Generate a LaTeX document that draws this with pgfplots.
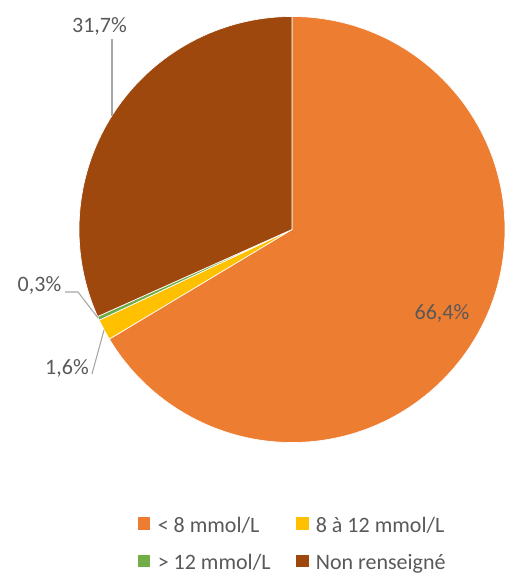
\documentclass[border=0pt]{standalone}
\usepackage{pgfplots}
\pgfplotsset{compat=1.18}
\usepackage{fontspec}
\setmainfont{Carlito}

\definecolor{sliceA}{HTML}{ED7D31}
\definecolor{sliceB}{HTML}{FFC000}
\definecolor{sliceC}{HTML}{70AD47}
\definecolor{sliceD}{HTML}{9E480E}
\definecolor{lbl}{HTML}{595959}
\definecolor{lead}{HTML}{A6A6A6}

\begin{document}
\begin{tikzpicture}
\begin{axis}[
    width=386.25pt, height=434.25pt, scale only axis,
    xmin=0, xmax=515, ymin=0, ymax=579,
    hide axis, clip=false,
    legend columns=2,
    legend cell align=left,
    legend style={at={(0.5689,0.0604)}, anchor=center, draw=none, fill=none,
        font=\fontsize{16.5}{18}\selectfont, text=lbl,
        /tikz/every even column/.append style={column sep=17pt},
        row sep=11pt},
    legend image code/.code={\fill[#1, draw=none] (0pt,-3.5pt) rectangle (9.5pt,6pt);
        \path[draw=none, fill=none] (0pt,0pt) -- (13pt,0pt);},
]
% keep the whole frame as the page
\path (axis cs:0,0) rectangle (axis cs:515,579);

% pie: share of each group, clockwise from the top
\gdef\cum{0}
\foreach \v/\c in {66.4/sliceA, 1.6/sliceB, 0.3/sliceC, 31.7/sliceD}{
    \pgfmathsetmacro\a{90-3.6*\cum}
    \pgfmathsetmacro\b{90-3.6*(\cum+\v)}
    \edef\tmp{\noexpand\fill[\c, draw=white, line width=0.5pt]
        (axis cs:292,349.5) -- ++(\a:159.75pt)
        arc[start angle=\a, end angle=\b, radius=159.75pt] -- cycle;}
    \tmp
    \pgfmathsetmacro\nc{\cum+\v}
    \xdef\cum{\nc}
}

\addlegendimage{fill=sliceA}
\addlegendentry{< 8 mmol/L}
\addlegendimage{fill=sliceB}
\addlegendentry{8 à 12 mmol/L}
\addlegendimage{fill=sliceC}
\addlegendentry{> 12 mmol/L}
\addlegendimage{fill=sliceD}
\addlegendentry{Non renseigné}

% leader lines
\draw[lead, line width=0.8pt] (axis cs:112,540) -- (axis cs:112,463);
\draw[lead, line width=0.8pt] (axis cs:65,287) -- (axis cs:78,287) -- (axis cs:98,261);
\draw[lead, line width=0.8pt] (axis cs:92,205) -- (axis cs:104,249);

% labels
\begin{scope}[every node/.style={text=lbl, font=\fontsize{16.5}{18}\selectfont}]
\node at (axis cs:442,266) {66,4\%};
\node at (axis cs:99.5,553) {31,7\%};
\node at (axis cs:39.5,294) {0,3\%};
\node at (axis cs:67,211) {1,6\%};
\end{scope}
\end{axis}
\end{tikzpicture}
\end{document}
